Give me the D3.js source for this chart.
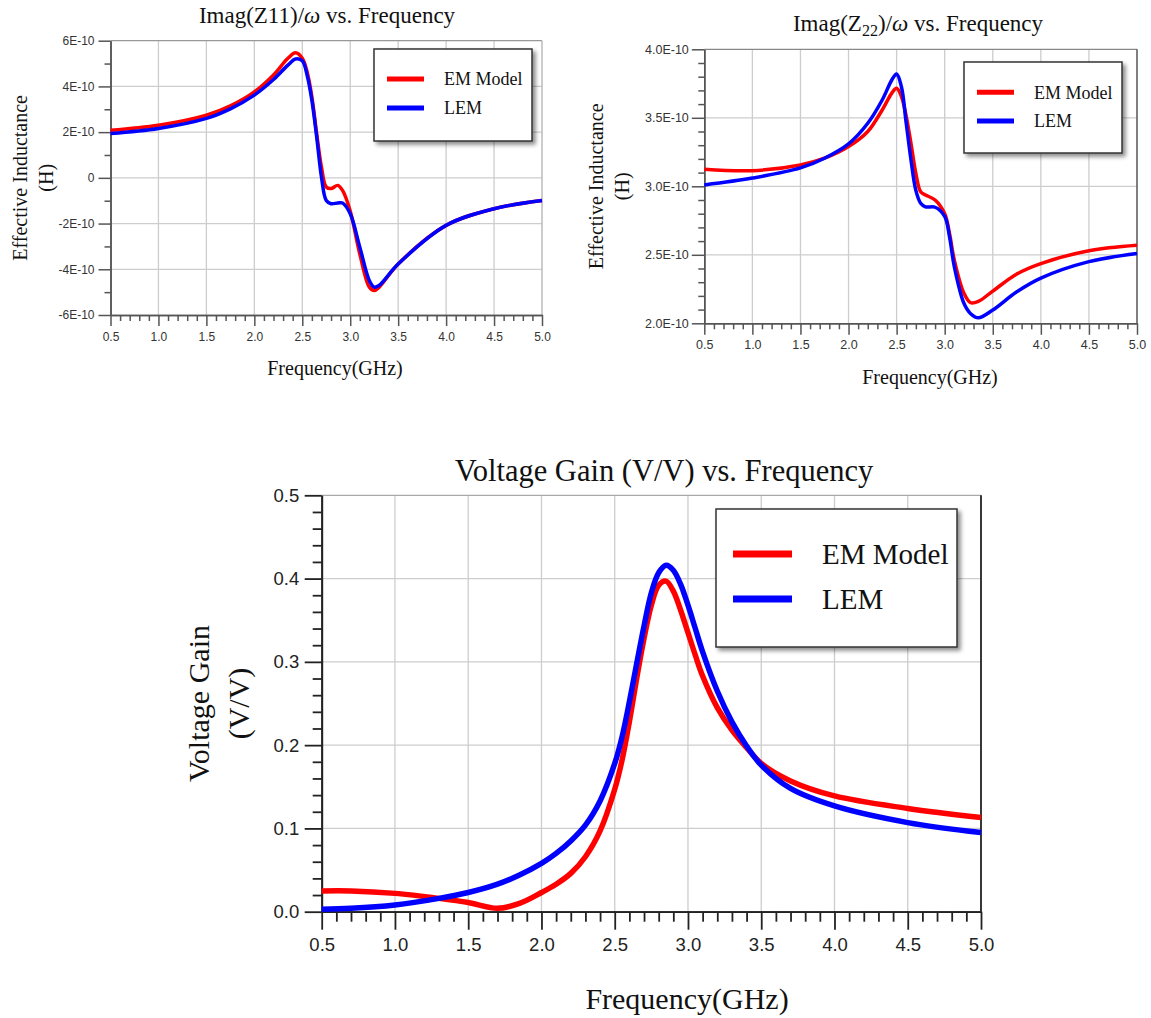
<!DOCTYPE html>
<html>
<head>
<meta charset="utf-8">
<script src="https://cdn.jsdelivr.net/npm/d3@7"></script>
<style>
  body { margin: 0; background: #fff; }
  svg { display: block; }
  .serif { font-family: 'Liberation Serif', 'Times New Roman', serif; fill: #111; }
</style>
</head>
<body>
<script>
// ---- data ----
// Imag(Z11)/omega, in units of 1E-10 H
const freqZ11 = [0.5, 1.0, 1.5, 1.75, 2.0, 2.2, 2.35, 2.43, 2.5, 2.55, 2.6, 2.65, 2.7, 2.75, 2.8, 2.87, 2.92, 3.0, 3.1, 3.2, 3.25, 3.3, 3.5, 4.0, 4.5, 5.0]
const z11Em = [2.08, 2.3, 2.74, 3.15, 3.76, 4.5, 5.23, 5.47, 5.23, 4.64, 3.55, 1.94, 0.47, -0.4, -0.47, -0.33, -0.55, -1.45, -3.33, -4.79, -4.93, -4.79, -3.77, -2.08, -1.35, -0.99]
const z11Lem = [1.94, 2.16, 2.6, 3.02, 3.62, 4.3, 4.93, 5.2, 5.12, 4.5, 3.4, 1.8, 0.04, -0.99, -1.13, -1.1, -1.1, -1.57, -3.03, -4.5, -4.78, -4.71, -3.77, -2.08, -1.35, -0.99]
const z11TickValues = [-6, -4, -2, 0, 2, 4, 6]
const z11TickLabels = ['-6E-10', '-4E-10', '-2E-10', '0', '2E-10', '4E-10', '6E-10']

// Imag(Z22)/omega, in units of 1E-10 H
const freqZ22 = [0.5, 1.0, 1.5, 1.75, 2.0, 2.2, 2.35, 2.45, 2.5, 2.55, 2.6, 2.65, 2.7, 2.75, 2.8, 2.9, 3.0, 3.05, 3.1, 3.2, 3.27, 3.35, 3.5, 3.75, 4.0, 4.5, 5.0]
const z22Em = [3.124, 3.114, 3.156, 3.205, 3.29, 3.40, 3.557, 3.68, 3.715, 3.655, 3.51, 3.31, 3.095, 2.96, 2.937, 2.9, 2.80, 2.657, 2.462, 2.22, 2.15, 2.16, 2.235, 2.36, 2.436, 2.53, 2.57]
const z22Lem = [3.01, 3.06, 3.134, 3.205, 3.31, 3.46, 3.63, 3.776, 3.82, 3.727, 3.46, 3.19, 2.97, 2.876, 2.85, 2.847, 2.78, 2.633, 2.414, 2.146, 2.07, 2.04, 2.097, 2.23, 2.33, 2.45, 2.51]
const z22TickValues = [2.0, 2.5, 3.0, 3.5, 4.0]
const z22TickLabels = ['2.0E-10', '2.5E-10', '3.0E-10', '3.5E-10', '4.0E-10']

// Voltage gain (V/V)
const freqGain = [0.5, 0.7, 1.0, 1.3, 1.5, 1.7, 1.85, 2.0, 2.1, 2.2, 2.3, 2.4, 2.5, 2.55, 2.6, 2.65, 2.7, 2.75, 2.8, 2.85, 2.9, 2.95, 3.0, 3.05, 3.1, 3.2, 3.3, 3.4, 3.5, 3.7, 4.0, 4.5, 5.0]
const gainEm = [0.025, 0.025, 0.022, 0.016, 0.011, 0.004, 0.010, 0.023, 0.033, 0.046, 0.066, 0.097, 0.147, 0.182, 0.228, 0.28, 0.328, 0.368, 0.392, 0.397, 0.385, 0.362, 0.335, 0.308, 0.283, 0.245, 0.218, 0.197, 0.178, 0.157, 0.139, 0.124, 0.113]
const gainLem = [0.003, 0.004, 0.008, 0.016, 0.023, 0.033, 0.044, 0.058, 0.07, 0.085, 0.104, 0.133, 0.178, 0.21, 0.252, 0.298, 0.343, 0.383, 0.407, 0.416, 0.41, 0.393, 0.368, 0.34, 0.312, 0.265, 0.228, 0.199, 0.176, 0.148, 0.127, 0.107, 0.095]
const gainTickValues = [0, 0.1, 0.2, 0.3, 0.4, 0.5]
const gainTickLabels = ['0.0', '0.1', '0.2', '0.3', '0.4', '0.5']

const freqTickValues = [0.5, 1.0, 1.5, 2.0, 2.5, 3.0, 3.5, 4.0, 4.5, 5.0]
const freqTickLabels = ['0.5', '1.0', '1.5', '2.0', '2.5', '3.0', '3.5', '4.0', '4.5', '5.0']
const seriesNames = ['EM Model', 'LEM']
const seriesColors = ['#ff0000', '#0000ff']

const svg = d3.select('body').append('svg')
  .attr('width', 1151)
  .attr('height', 1018)

// drop shadow for legend boxes
svg.append('defs').append('filter')
  .attr('id', 'shadow')
  .attr('x', '-10%').attr('y', '-10%').attr('width', '130%').attr('height', '130%')
  .append('feDropShadow')
  .attr('dx', 3).attr('dy', 3).attr('stdDeviation', 2)
  .attr('flood-color', '#000').attr('flood-opacity', 0.45)

function drawPlot (c) {
  const x = d3.scaleLinear().domain([0.5, 5]).range([c.left, c.right])
  const y = d3.scaleLinear().domain(c.yDomain).range([c.bottom, c.top])
  const g = svg.append('g')

  // grid
  g.append('g').selectAll('line')
    .data(freqTickValues.slice(1, -1))
    .join('line')
    .attr('x1', d => x(d)).attr('x2', d => x(d))
    .attr('y1', c.top).attr('y2', c.bottom)
    .attr('stroke', '#cdcdcd').attr('stroke-width', 1.3)
  g.append('g').selectAll('line')
    .data(c.yTickValues.slice(1, -1))
    .join('line')
    .attr('x1', c.left).attr('x2', c.right)
    .attr('y1', d => y(d)).attr('y2', d => y(d))
    .attr('stroke', '#cdcdcd').attr('stroke-width', 1.3)

  // top + right frame
  g.append('line')
    .attr('x1', c.left).attr('x2', c.right).attr('y1', c.top).attr('y2', c.top)
    .attr('stroke', c.topColor).attr('stroke-width', 1.3)
  g.append('line')
    .attr('x1', c.right).attr('x2', c.right).attr('y1', c.top).attr('y2', c.bottom)
    .attr('stroke', c.rightColor).attr('stroke-width', c.axisWidth)

  // minor ticks
  const xMinor = d3.range(5, 51).map(d => d / 10).filter(d => Math.round(d * 10) % 5 !== 0)
  const yStep = c.yMinorStep
  const yMinor = d3.range(Math.round(c.yDomain[0] / yStep), Math.round(c.yDomain[1] / yStep) + 1)
    .map(d => d * yStep)
    .filter(d => !c.yTickValues.some(v => Math.abs(v - d) < 1e-9))

  function styleAxis (a) {
    a.selectAll('.domain').attr('stroke', c.axisColor).attr('stroke-width', c.axisWidth)
    a.selectAll('.tick line').attr('stroke', c.axisColor).attr('stroke-width', c.axisWidth)
    a.selectAll('.tick text')
      .attr('fill', c.tickTextColor)
      .style('font-family', "'Liberation Sans', Arial, sans-serif")
      .style('font-size', c.tickFont + 'px')
  }

  g.append('g')
    .attr('transform', `translate(0,${c.bottom})`)
    .call(d3.axisBottom(x).tickValues(xMinor).tickSize(c.xMinorLen).tickSizeOuter(0).tickFormat(''))
    .call(styleAxis)
  g.append('g')
    .attr('transform', `translate(${c.left},0)`)
    .call(d3.axisLeft(y).tickValues(yMinor).tickSize(c.yMinorLen).tickSizeOuter(0).tickFormat(''))
    .call(styleAxis)

  // major ticks + labels
  g.append('g')
    .attr('transform', `translate(0,${c.bottom})`)
    .call(d3.axisBottom(x).tickValues(freqTickValues).tickSize(c.xMajorLen).tickSizeOuter(0)
      .tickPadding(c.xPad).tickFormat((d, i) => freqTickLabels[i]))
    .call(styleAxis)
  g.append('g')
    .attr('transform', `translate(${c.left},0)`)
    .call(d3.axisLeft(y).tickValues(c.yTickValues).tickSize(c.yMajorLen).tickSizeOuter(0)
      .tickPadding(c.yPad).tickFormat((d, i) => c.yTickLabels[i]))
    .call(styleAxis)

  // curves
  const line = d3.line()
    .x(d => x(d[0]))
    .y(d => y(d[1]))
    .curve(d3.curveCatmullRom.alpha(0.5))
  c.series.forEach((s, i) => {
    g.append('path')
      .datum(c.freq.map((f, j) => [f, s[j]]))
      .attr('fill', 'none')
      .attr('stroke', seriesColors[i])
      .attr('stroke-width', c.lineWidth)
      .attr('stroke-linejoin', 'round')
      .attr('d', line)
  })

  // title
  const title = g.append('text')
    .attr('class', 'serif')
    .attr('x', c.titleX).attr('y', c.titleY)
    .attr('text-anchor', 'middle')
    .style('font-size', c.titleFont + 'px')
  c.titleParts.forEach(p => {
    const t = title.append('tspan').text(p.text)
    if (p.italic) t.style('font-style', 'italic')
    if (p.sub) t.style('font-size', '0.7em').attr('dy', c.titleFont * 0.22)
    if (p.after) t.attr('dy', -c.titleFont * 0.22)
  })

  // axis titles
  g.append('text')
    .attr('class', 'serif')
    .attr('x', c.xTitleX).attr('y', c.xTitleY)
    .attr('text-anchor', 'middle')
    .style('font-size', c.axisTitleFont + 'px')
    .text('Frequency(GHz)')
  const midY = (c.top + c.bottom) / 2
  c.yTitleLines.forEach((txt, i) => {
    g.append('text')
      .attr('class', 'serif')
      .attr('transform', `translate(${c.yTitleX[i]},${midY}) rotate(-90)`)
      .attr('text-anchor', 'middle')
      .attr('dy', '0.35em')
      .style('font-size', c.axisTitleFont + 'px')
      .text(txt)
  })

  // legend
  const L = c.legend
  const lg = g.append('g')
  lg.append('rect')
    .attr('x', L.x0).attr('y', L.y0)
    .attr('width', L.x1 - L.x0).attr('height', L.y1 - L.y0)
    .attr('fill', '#fff')
    .attr('stroke', '#333').attr('stroke-width', 1.5)
    .attr('filter', 'url(#shadow)')
  seriesNames.forEach((name, i) => {
    lg.append('line')
      .attr('x1', L.lx0).attr('x2', L.lx1)
      .attr('y1', L.rows[i]).attr('y2', L.rows[i])
      .attr('stroke', seriesColors[i])
      .attr('stroke-width', L.lineWidth)
    lg.append('text')
      .attr('class', 'serif')
      .attr('x', L.tx).attr('y', L.rows[i])
      .attr('dy', '0.35em')
      .style('font-size', L.font + 'px')
      .text(name)
  })
}

drawPlot({
  left: 110.5, right: 542, top: 40.7, bottom: 315,
  yDomain: [-6, 6], yTickValues: z11TickValues, yTickLabels: z11TickLabels, yMinorStep: 1,
  freq: freqZ11, series: [z11Em, z11Lem],
  axisColor: '#555', axisWidth: 1.5, topColor: '#999', rightColor: '#bbb', tickTextColor: '#333',
  tickFont: 12, xMajorLen: 11, xMinorLen: 6, yMajorLen: 12, yMinorLen: 6, xPad: 6, yPad: 4,
  lineWidth: 3.5,
  titleX: 327, titleY: 23, titleFont: 23,
  titleParts: [{ text: 'Imag(Z11)/' }, { text: 'ω', italic: true }, { text: ' vs. Frequency' }],
  xTitleX: 335, xTitleY: 375, axisTitleFont: 20,
  yTitleLines: ['Effective Inductance', '(H)'], yTitleX: [20, 46],
  legend: { x0: 374, x1: 532, y0: 49, y1: 141, lx0: 387, lx1: 424, rows: [79, 108], tx: 444, font: 18, lineWidth: 5 }
})

drawPlot({
  left: 704.3, right: 1137, top: 49.3, bottom: 323.3,
  yDomain: [2, 4], yTickValues: z22TickValues, yTickLabels: z22TickLabels, yMinorStep: 0.1,
  freq: freqZ22, series: [z22Em, z22Lem],
  axisColor: '#555', axisWidth: 1.5, topColor: '#888', rightColor: '#555', tickTextColor: '#333',
  tickFont: 12.5, xMajorLen: 11.5, xMinorLen: 6, yMajorLen: 12.5, yMinorLen: 6, xPad: 5.5, yPad: 3,
  lineWidth: 3.5,
  titleX: 918, titleY: 31, titleFont: 23,
  titleParts: [{ text: 'Imag(Z' }, { text: '22', sub: true }, { text: ')/', after: true }, { text: 'ω', italic: true }, { text: ' vs. Frequency' }],
  xTitleX: 930, xTitleY: 384, axisTitleFont: 20,
  yTitleLines: ['Effective Inductance', '(H)'], yTitleX: [596, 622],
  legend: { x0: 964, x1: 1122, y0: 62, y1: 153, lx0: 977, lx1: 1014, rows: [92.3, 121], tx: 1034, font: 18, lineWidth: 5 }
})

drawPlot({
  left: 321.7, right: 981, top: 495.3, bottom: 911.7,
  yDomain: [0, 0.5], yTickValues: gainTickValues, yTickLabels: gainTickLabels, yMinorStep: 0.02,
  freq: freqGain, series: [gainEm, gainLem],
  axisColor: '#222', axisWidth: 1.8, topColor: '#aaa', rightColor: '#222', tickTextColor: '#222',
  tickFont: 18.5, xMajorLen: 18, xMinorLen: 10, yMajorLen: 17, yMinorLen: 9, xPad: 8, yPad: 5.5,
  lineWidth: 5.5,
  titleX: 664, titleY: 481, titleFont: 30.5,
  titleParts: [{ text: 'Voltage Gain (V/V) vs. Frequency' }],
  xTitleX: 687, xTitleY: 1009, axisTitleFont: 30,
  yTitleLines: ['Voltage Gain', '(V/V)'], yTitleX: [198, 238],
  legend: { x0: 716, x1: 957, y0: 509, y1: 647, lx0: 733, lx1: 792, rows: [554, 599], tx: 822, font: 29, lineWidth: 7 }
})
</script>
</body>
</html>
